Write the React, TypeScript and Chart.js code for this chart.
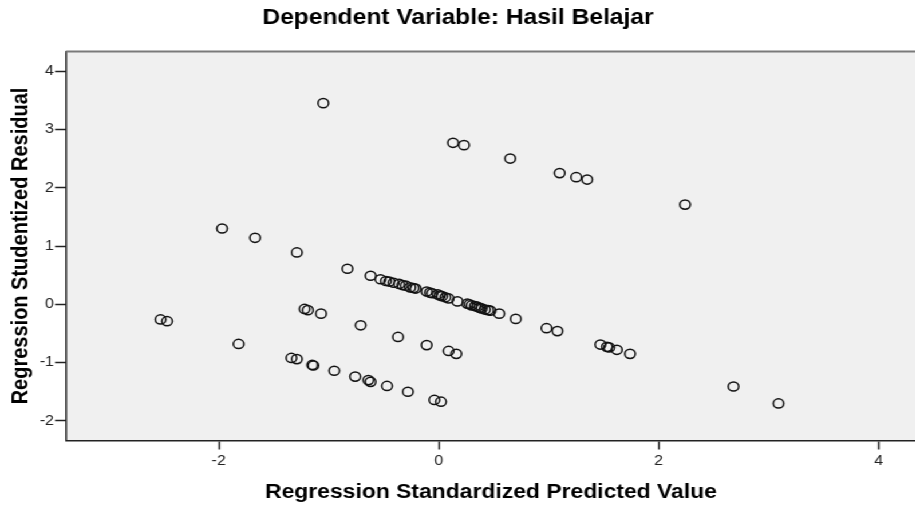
import { useEffect, useRef } from "react";
import { Chart, registerables } from "chart.js";

Chart.register(...registerables);

// Regression Standardized Predicted Value
const predicted: number[] = [
  -1.05, 0.13, 0.23, 0.65, 1.1, 1.25, 1.35, 2.24,
  -1.97, -1.67, -1.29, -0.83, -0.62, -0.53, -0.48, -0.45, -0.41, -0.36, -0.33, -0.3, -0.26, -0.23, -0.21,
  -0.11, -0.08, -0.06, -0.01, 0.01, 0.03, 0.06, 0.09, 0.17, 0.26, 0.28, 0.3, 0.33, 0.35, 0.37, 0.39, 0.42,
  0.45, 0.47, 0.55, 0.7, 0.98, 1.08, 1.47, 1.53, 1.55, 1.62, 1.74, 2.68, 3.09,
  -2.53, -2.47, -1.82, -1.22, -1.19, -1.07, -0.71, -0.37, -0.11, 0.09, 0.16,
  -1.34, -1.29, -1.15, -1.14, -0.95, -0.76, -0.64, -0.62, -0.47, -0.28, -0.04, 0.02,
];

// Regression Studentized Residual
const residual: number[] = [
  3.45, 2.77, 2.73, 2.5, 2.25, 2.18, 2.14, 1.71,
  1.3, 1.14, 0.89, 0.61, 0.49, 0.43, 0.4, 0.39, 0.37, 0.35, 0.33, 0.32, 0.29, 0.28, 0.27,
  0.22, 0.2, 0.19, 0.17, 0.15, 0.14, 0.12, 0.1, 0.05, 0.01, 0.0, -0.02, -0.03, -0.04, -0.06, -0.07, -0.09,
  -0.1, -0.11, -0.16, -0.25, -0.41, -0.46, -0.69, -0.73, -0.74, -0.78, -0.85, -1.41, -1.7,
  -0.26, -0.29, -0.68, -0.08, -0.1, -0.16, -0.36, -0.56, -0.7, -0.8, -0.85,
  -0.92, -0.94, -1.04, -1.05, -1.14, -1.24, -1.3, -1.33, -1.4, -1.5, -1.64, -1.67,
];

const xTicks: number[] = [-2, 0, 2, 4];
const yTicks: number[] = [-2, -1, 0, 1, 2, 3, 4];

const chartTitle = "Dependent Variable: Hasil Belajar";
const xTitle = "Regression Standardized Predicted Value";
const yTitle = "Regression Studentized Residual";

const STRETCH = 1.145;
const W = 800;
const H = 508;
const FONT = "'Liberation Sans', Arial, sans-serif";

const plotBg = {
  id: "plotBg",
  beforeDraw(chart: any) {
    const { ctx, chartArea: a } = chart;
    ctx.save();
    ctx.fillStyle = "#f0f0f0";
    ctx.fillRect(a.left, a.top, a.right - a.left, a.bottom - a.top);
    ctx.restore();
  },
  afterDraw(chart: any) {
    const { ctx, chartArea: a } = chart;
    ctx.save();
    ctx.strokeStyle = "#7a7a7a";
    ctx.lineWidth = 2;
    ctx.beginPath();
    ctx.moveTo(a.left, a.top);
    ctx.lineTo(a.right, a.top);
    ctx.stroke();
    ctx.restore();
  },
};

export default function App() {
  const ref = useRef<HTMLCanvasElement | null>(null);

  useEffect(() => {
    document.documentElement.style.overflow = "hidden";
    document.body.style.margin = "0";
    document.body.style.overflow = "hidden";
    if (!ref.current) return;
    const points = predicted.map((x, i) => ({ x, y: residual[i] }));
    const chart = new Chart(ref.current, {
      type: "scatter",
      data: {
        datasets: [
          {
            data: points,
            pointStyle: "circle",
            pointRadius: 4.6,
            pointBorderWidth: 1.5,
            pointBorderColor: "#111",
            pointBackgroundColor: "rgba(0,0,0,0)",
          },
        ],
      },
      options: {
        animation: false,
        responsive: false,
        devicePixelRatio: 1,
        layout: { padding: 0, autoPadding: false },
        plugins: {
          legend: { display: false },
          tooltip: { enabled: false },
          title: {
            display: true,
            text: chartTitle,
            color: "#000",
            font: { family: FONT, size: 21.5, weight: "bold", lineHeight: 1.2 },
            padding: { top: 5, bottom: 20.7 },
          },
        },
        scales: {
          x: {
            type: "linear",
            min: -3.39,
            max: 4.34,
            afterBuildTicks: (s: any) => {
              s.ticks = xTicks.map((v) => ({ value: v }));
            },
            afterFit: (s: any) => {
              s.height = 67.5;
              s.paddingLeft = 0;
              s.paddingRight = 0;
            },
            grid: {
              display: true,
              drawOnChartArea: false,
              drawTicks: true,
              tickLength: 9,
              tickColor: "#222",
              tickWidth: 1.5,
            },
            border: { display: true, color: "#222", width: 1.5 },
            ticks: {
              color: "#222",
              padding: 3,
              font: { family: FONT, size: 14 },
            },
            title: {
              display: true,
              text: xTitle,
              color: "#000",
              font: { family: FONT, size: 20, weight: "bold", lineHeight: 1.2 },
              padding: { top: 0, bottom: 4 },
            },
          },
          y: {
            type: "linear",
            min: -2.336,
            max: 4.336,
            afterBuildTicks: (s: any) => {
              s.ticks = yTicks.map((v) => ({ value: v }));
            },
            afterFit: (s: any) => {
              s.width = 57.6;
              s.paddingTop = 0;
              s.paddingBottom = 0;
            },
            grid: {
              display: true,
              drawOnChartArea: false,
              drawTicks: true,
              tickLength: 9.5,
              tickColor: "#222",
              tickWidth: 1.5,
            },
            border: { display: true, color: "#222", width: 1.5 },
            ticks: {
              color: "#222",
              padding: 1,
              font: { family: FONT, size: 14 },
            },
            title: {
              display: true,
              text: yTitle,
              color: "#000",
              font: { family: FONT, size: 20, weight: "bold", lineHeight: 1.2 },
              padding: { top: 6.3, bottom: 0 },
            },
          },
        },
      },
      plugins: [plotBg],
    });
    return () => chart.destroy();
  }, []);

  return (
    <div
      style={{
        position: "fixed",
        left: 0,
        top: 0,
        width: W,
        height: H,
        transform: `scaleX(${STRETCH})`,
        transformOrigin: "0 0",
        background: "#fff",
      }}
    >
      <canvas ref={ref} width={W} height={H} style={{ display: "block", width: W, height: H }} />
    </div>
  );
}
